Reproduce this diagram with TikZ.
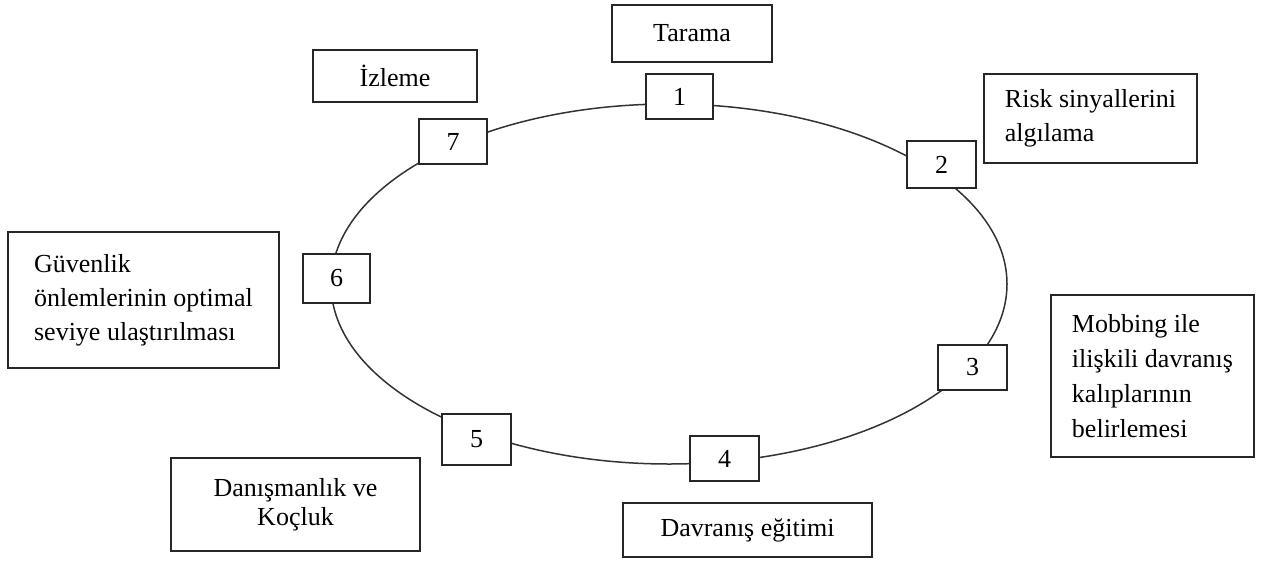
\documentclass[tikz,border=0pt]{standalone}
\usepackage{fontspec}
\setmainfont{Liberation Serif}
\begin{document}
\begin{tikzpicture}[x=1pt,y=-1pt,
  every node/.style={font=\fontsize{26}{34}\selectfont, text=black},
  numbox/.style={draw=black!85, line width=1.7pt, fill=white, rectangle, inner sep=0pt},
  labelbox/.style={draw=black!85, line width=1.9pt, fill=white, rectangle, inner sep=0pt},
  ring/.style={draw=black!80, line width=1.5pt}]
\useasboundingbox (0,0) rectangle (1261,560);
\fill[white] (0,0) rectangle (1261,560);
% cycle
\draw[ring] (669,284) ellipse [x radius=338pt, y radius=180pt];
% numbered boxes
\node[numbox, minimum width=67pt, minimum height=45pt] (n1) at (679.5,96.5) {1};
\node[numbox, minimum width=69pt, minimum height=47pt] (n2) at (941.5,164.5) {2};
\node[numbox, minimum width=69pt, minimum height=45pt] (n3) at (972.5,367.5) {3};
\node[numbox, minimum width=69pt, minimum height=45pt] (n4) at (724.5,458.5) {4};
\node[numbox, minimum width=69pt, minimum height=51pt] (n5) at (476.5,439.5) {5};
\node[numbox, minimum width=67pt, minimum height=49pt] (n6) at (336.5,278.5) {6};
\node[numbox, minimum width=68pt, minimum height=45pt] (n7) at (453,141.5) {7};
% label boxes
\node[labelbox, minimum width=160pt, minimum height=57pt] (l1) at (692,33.5) {Tarama};
\node[labelbox, minimum width=213pt, minimum height=89pt, align=left] (l2) at (1090.5,118.5) {Risk sinyallerini\\algılama};
\node[labelbox, minimum width=203pt, minimum height=162pt, align=left, font=\fontsize{26}{35}\selectfont] (l3) at (1152.5,376) {Mobbing ile\\ilişkili davranış\\kalıplarının\\belirlemesi};
\node[labelbox, minimum width=249pt, minimum height=54pt] (l4) at (747.5,530) {Davranış eğitimi};
\node[labelbox, minimum width=249pt, minimum height=93pt, align=center, font=\fontsize{26}{29}\selectfont] (l5) at (295.5,504.5) {Danışmanlık ve\\Koçluk};
\node[labelbox, minimum width=271pt, minimum height=136pt, align=left] (l6) at (143.5,300) {Güvenlik\\önlemlerinin optimal\\seviye ulaştırılması};
\node[labelbox, minimum width=164pt, minimum height=52pt] (l7) at (395,76) {İzleme};
\end{tikzpicture}
\end{document}
